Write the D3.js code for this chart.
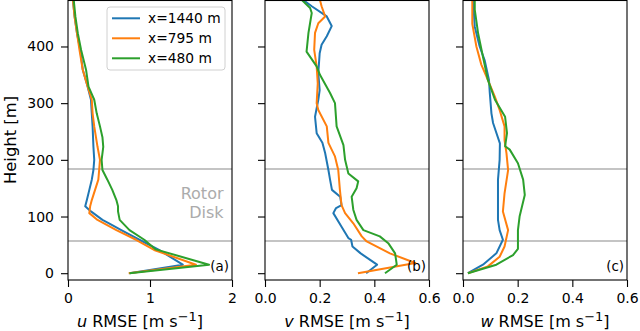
<!DOCTYPE html>
<html>
<head>
<meta charset="utf-8">
<script src="https://cdn.jsdelivr.net/npm/d3@7"></script>
<style>
  body { margin: 0; background: #fff; }
  text { font-family: "DejaVu Sans", sans-serif; }
</style>
</head>
<body>
<svg width="640" height="331"></svg>
<script>
// stations (legend) and colours
const stations = ["x=1440 m", "x=795 m", "x=480 m"];
const colors = ["#1f77b4", "#ff7f0e", "#2ca02c"];

// [height (m), RMSE]
const u1440 = [[0,0.75],[15,1.40],[41,1.11],[59,0.87],[76,0.65],[88,0.50],[94,0.42],[109,0.28],[118,0.21],[129,0.23],[147,0.26],[165,0.29],[182,0.31],[200,0.32],[223,0.31],[259,0.30],[282,0.29],[306,0.28],[329,0.24],[359,0.18],[394,0.15],[423,0.11],[453,0.08],[482,0.06]];
const u795  = [[0,0.74],[15,1.56],[41,1.05],[59,0.83],[76,0.59],[94,0.36],[106,0.26],[118,0.27],[129,0.29],[147,0.33],[165,0.37],[182,0.38],[200,0.39],[223,0.36],[259,0.32],[282,0.30],[306,0.29],[329,0.24],[359,0.18],[394,0.14],[423,0.11],[453,0.08],[482,0.06]];
const u480  = [[0,0.75],[15,1.72],[42,1.07],[59,0.93],[76,0.75],[94,0.63],[109,0.61],[118,0.61],[129,0.59],[147,0.54],[165,0.48],[182,0.42],[200,0.41],[223,0.43],[240,0.42],[259,0.39],[282,0.35],[306,0.32],[329,0.25],[359,0.22],[394,0.16],[423,0.12],[453,0.09],[482,0.07]];

const v1440 = [[0,0.37],[15,0.41],[35,0.35],[47,0.32],[59,0.315],[62,0.305],[82,0.28],[106,0.25],[115,0.26],[120,0.28],[135,0.275],[147,0.245],[165,0.238],[182,0.232],[212,0.22],[230,0.21],[247,0.189],[276,0.183],[306,0.195],[323,0.20],[353,0.195],[388,0.20],[403,0.207],[418,0.226],[436,0.244],[453,0.226],[471,0.171],[482,0.14]];
const v795  = [[0,0.34],[18,0.55],[35,0.457],[56,0.372],[65,0.354],[88,0.323],[106,0.293],[120,0.28],[147,0.274],[182,0.268],[206,0.256],[230,0.232],[259,0.226],[288,0.195],[300,0.189],[335,0.193],[365,0.189],[394,0.18],[424,0.183],[441,0.195],[453,0.22],[471,0.207],[482,0.201]];
const v480  = [[0,0.439],[15,0.482],[35,0.476],[53,0.451],[65,0.42],[76,0.36],[94,0.335],[112,0.323],[135,0.317],[150,0.335],[162,0.341],[176,0.305],[200,0.293],[226,0.287],[259,0.262],[300,0.256],[318,0.238],[350,0.201],[365,0.189],[391,0.152],[424,0.159],[459,0.171],[468,0.165],[482,0.135]];

const w1440 = [[0,0.018],[15,0.073],[35,0.122],[59,0.146],[76,0.134],[94,0.128],[129,0.128],[165,0.128],[200,0.134],[229,0.135],[265,0.11],[282,0.104],[318,0.098],[341,0.095],[376,0.079],[400,0.061],[435,0.043],[482,0.037]];
const w795  = [[0,0.018],[12,0.091],[29,0.134],[47,0.152],[76,0.165],[109,0.146],[141,0.152],[182,0.165],[212,0.159],[235,0.152],[259,0.152],[288,0.134],[312,0.116],[341,0.091],[368,0.067],[400,0.049],[440,0.034],[482,0.034]];
const w480  = [[0,0.018],[15,0.122],[32,0.183],[43,0.201],[76,0.201],[100,0.207],[138,0.226],[165,0.22],[194,0.201],[218,0.171],[224,0.154],[247,0.161],[276,0.154],[306,0.117],[341,0.091],[382,0.073],[424,0.055],[465,0.043],[482,0.043]];

// rotor disk bounds (m)
const rotorBottom = 57, rotorTop = 184;
const heightTicks = [0, 100, 200, 300, 400];
const uTicks = [0, 1, 2];
const vwTicks = [0.0, 0.2, 0.4, 0.6];

const panels = [
  { left: 68,  series: [u1440, u795, u480], domain: [0, 2],   ticks: uTicks,  fmt: d3.format("d"),   sym: "u", tag: "(a)", labelX: 140 },
  { left: 265, series: [v1440, v795, v480], domain: [0, 0.6], ticks: vwTicks, fmt: d3.format(".1f"), sym: "v", tag: "(b)", labelX: 347 },
  { left: 463, series: [w1440, w795, w480], domain: [0, 0.6], ticks: vwTicks, fmt: d3.format(".1f"), sym: "w", tag: "(c)", labelX: 545 }
];

const pw = 164, plotTop = 0, plotBottom = 280;
const svg = d3.select("svg");

const y = d3.scaleLinear().domain([-12, 482]).range([plotBottom, plotTop]);

svg.append("defs").append("clipPath").attr("id", "clip")
  .append("rect").attr("x", 0).attr("y", plotTop).attr("width", pw).attr("height", plotBottom - plotTop);

panels.forEach((p, i) => {
  const x = d3.scaleLinear().domain(p.domain).range([0, pw]);
  const g = svg.append("g").attr("transform", "translate(" + p.left + ",0)");

  // rotor disk lines
  g.selectAll(".rotor")
    .data([rotorBottom, rotorTop])
    .enter().append("line")
    .attr("x1", 0).attr("x2", pw)
    .attr("y1", d => y(d)).attr("y2", d => y(d))
    .attr("stroke", "#c4c4c4").attr("stroke-width", 2);

  // profiles
  const line = d3.line().x(d => x(d[1])).y(d => y(d[0]));
  g.append("g").attr("clip-path", "url(#clip)")
    .selectAll("path")
    .data(p.series)
    .enter().append("path")
    .attr("d", line)
    .attr("fill", "none")
    .attr("stroke", (d, k) => colors[k])
    .attr("stroke-width", 2)
    .attr("stroke-linejoin", "round");

  // axes
  const xa = g.append("g").attr("transform", "translate(0," + plotBottom + ")")
    .call(d3.axisBottom(x).tickValues(p.ticks).tickFormat(p.fmt).tickSize(7).tickPadding(6));
  const ya = g.append("g")
    .call(d3.axisLeft(y).tickValues(heightTicks).tickSize(7).tickPadding(7)
      .tickFormat(i === 0 ? d3.format("d") : () => ""));
  [xa, ya].forEach(a => {
    a.select(".domain").remove();
    a.selectAll("line").attr("stroke", "#000").attr("stroke-width", 1.1);
    a.selectAll("text").attr("font-size", 14).attr("fill", "#000")
      .style("font-family", '"DejaVu Sans", sans-serif');
  });

  // frame
  g.append("rect").attr("x", 0).attr("y", plotTop + 0.5).attr("width", pw).attr("height", plotBottom - plotTop - 0.5)
    .attr("fill", "none").attr("stroke", "#000").attr("stroke-width", 1.1);

  // panel tag
  g.append("text").attr("x", pw - 3).attr("y", 271)
    .attr("text-anchor", "end").attr("font-size", 13.4).text(p.tag);

  // x label
  const t = svg.append("text").attr("x", p.labelX).attr("y", 327)
    .attr("text-anchor", "middle").attr("font-size", 16);
  t.append("tspan").attr("font-style", "italic").text(p.sym);
  t.append("tspan").text(" RMSE [m s");
  t.append("tspan").attr("font-size", 13).attr("dy", -6).text("\u22121");
  t.append("tspan").attr("dy", 6).text("]");
});

// y label
svg.append("text")
  .attr("transform", "translate(16,140) rotate(-90)")
  .attr("text-anchor", "middle").attr("font-size", 16.4)
  .text("Height [m]");

// Rotor Disk note
const note = svg.append("text").attr("x", 223.5).attr("y", 199)
  .attr("text-anchor", "end").attr("font-size", 16).attr("fill", "#ababab");
note.append("tspan").attr("x", 223.5).text("Rotor");
note.append("tspan").attr("x", 223.5).attr("dy", 18.5).text("Disk");

// legend
const lg = svg.append("g").attr("transform", "translate(107,7)");
lg.append("rect").attr("width", 118).attr("height", 63).attr("rx", 3)
  .attr("fill", "#fff").attr("fill-opacity", 0.8).attr("stroke", "#d0d0d0");
const item = lg.selectAll(".item").data(stations).enter().append("g")
  .attr("transform", (d, k) => "translate(0," + (11.3 + k * 20) + ")");
item.append("line").attr("x1", 5).attr("x2", 33)
  .attr("stroke", (d, k) => colors[k]).attr("stroke-width", 2);
item.append("text").attr("x", 41).attr("y", 5).attr("font-size", 13.8).text(d => d);
</script>
</body>
</html>
